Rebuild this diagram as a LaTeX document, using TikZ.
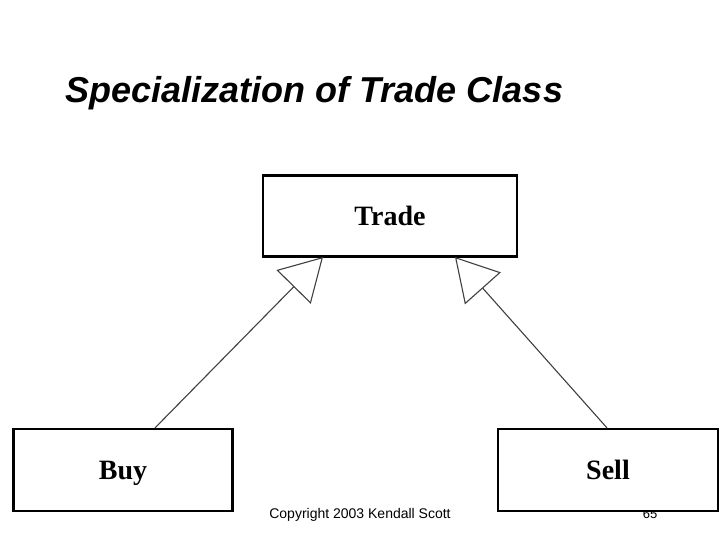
\documentclass[tikz,border=0pt]{standalone}
\usepackage{fontspec}
\setmainfont{Liberation Serif}
\setsansfont{Liberation Sans}
\usetikzlibrary{arrows.meta}
\begin{document}
\begin{tikzpicture}[x=1pt,y=-1pt,
  classbox/.style={draw=black, line width=2.2pt, fill=white, inner sep=0pt,
    text height=19pt, text depth=0pt,
    font=\fontsize{28}{30}\selectfont\bfseries},
  gen/.style={draw=black!75, line width=1.1pt,
    -{Triangle[open, length=42pt, width=48pt, line width=1.1pt]}, shorten >=0pt}]
\useasboundingbox (0,0) rectangle (720,540);
\fill[white] (0,0) rectangle (720,540);
\node[anchor=base west, font=\sffamily\bfseries\itshape\fontsize{36}{40}\selectfont] (title) at (62,103) {Specialization of Trade Class};
\node[font=\sffamily\fontsize{14}{16}\selectfont] (copy) at (360,515) {Copyright 2003 Kendall Scott};
\node[font=\sffamily\fontsize{13}{15}\selectfont] (page) at (650,514) {65};
\node[classbox, minimum width=254pt, minimum height=81pt] (trade) at (390,216) {Trade};
\node[classbox, minimum width=219pt, minimum height=82pt] (buy) at (123,470) {Buy};
\node[classbox, minimum width=220pt, minimum height=82pt] (sell) at (608,470) {Sell};
\coordinate (tb) at (323,257);
\coordinate (ts) at (455,257);
\draw[gen] (buy.north -| 155,0) -- (tb);
\draw[gen] (sell.north -| 607,0) -- (ts);
\end{tikzpicture}
\end{document}
